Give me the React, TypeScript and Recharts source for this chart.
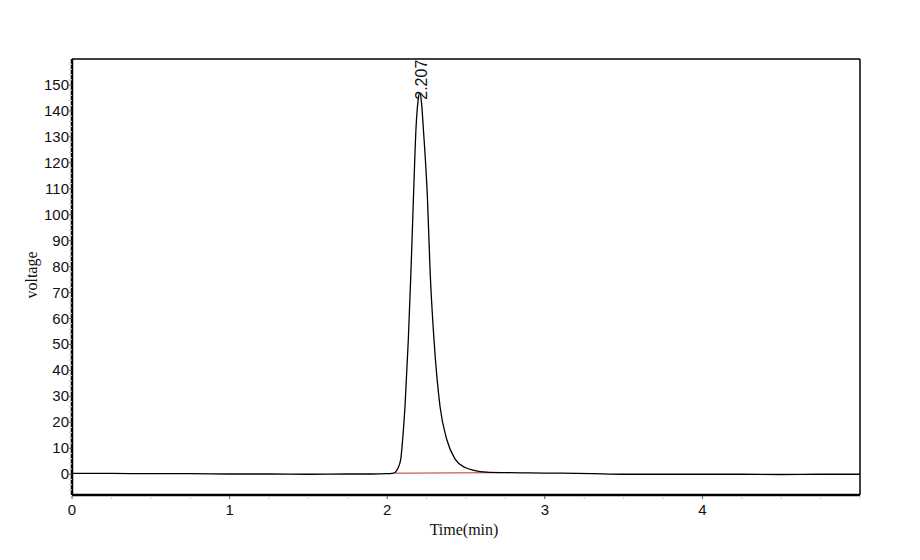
import { LineChart, Line, XAxis, YAxis, ReferenceLine, ReferenceDot } from "recharts";

// chromatogram trace (time in min, signal in voltage units)
const time = [
  0, 0.25, 0.5, 0.75, 1.0, 1.25, 1.5, 1.75, 1.9, 2.0, 2.03, 2.05, 2.07, 2.086, 2.098,
  2.113, 2.134, 2.151, 2.166, 2.183, 2.196, 2.207, 2.218, 2.229, 2.256, 2.272, 2.297,
  2.335, 2.378, 2.431, 2.494, 2.55, 2.631, 2.75, 2.9, 3.1, 3.3, 3.5, 3.75, 4.0, 4.25,
  4.5, 4.75, 5.0,
];
const voltage = [
  0.3, 0.3, 0.2, 0.2, 0.1, 0.1, 0.0, 0.1, 0.1, 0.2, 0.3, 0.7, 2.6, 5.8, 13.4,
  26.2, 51.8, 78.6, 105.5, 133.5, 144, 147, 143, 133.5, 105.5, 78.6, 51.8,
  26.2, 13.4, 5.8, 2.6, 1.5, 0.8, 0.6, 0.5, 0.4, 0.2, 0.0, 0.0, 0.0, 0.0,
  -0.1, 0.0, 0.0,
];

// integration baseline under the peak
const baselineTime = [2.05, 2.72];
const baselineVoltage = [0.4, 0.6];

const peakTime = 2.207;
const peakVoltage = 147;
const peakLabel = "2.207";

const xLabels = [0, 1, 2, 3, 4];
const yLabels = [0, 10, 20, 30, 40, 50, 60, 70, 80, 90, 100, 110, 120, 130, 140, 150];

const xTicks = Array.from({ length: 21 }, (_, i) => i * 0.25);
const yTicks = Array.from({ length: 83 }, (_, i) => -6 + i * 2);

const trace = time.map((t, i) => ({ t, v: voltage[i] }));
const baseline = baselineTime.map((t, i) => ({ t, v: baselineVoltage[i] }));

const SANS = "'Liberation Sans', Arial, Helvetica, sans-serif";
const SERIF = "'Liberation Serif', 'Times New Roman', serif";

function XTick({ x, y, payload }: any) {
  const major = xLabels.includes(payload.value);
  return (
    <g>
      <line x1={x} x2={x} y1={y + 1} y2={y + 4} stroke={major ? "#555" : "#ccc"} />
      {major && (
        <text x={x} y={y + 20} textAnchor="middle" fontSize={15} fontFamily={SANS} fill="#111">
          {payload.value}
        </text>
      )}
    </g>
  );
}

function YTick({ x, y, payload }: any) {
  const major = yLabels.includes(payload.value);
  return (
    <g>
      <line x1={x - 3} x2={x} y1={y} y2={y} stroke={major ? "#555" : "#ccc"} />
      {major && (
        <text x={x - 3} y={y + 5} textAnchor="end" fontSize={15} fontFamily={SANS} fill="#111">
          {payload.value}
        </text>
      )}
    </g>
  );
}

function PeakLabel({ viewBox }: any) {
  const cx = viewBox.x + (viewBox.width || 0) / 2;
  const cy = viewBox.y + (viewBox.height || 0) / 2;
  const px = cx + 7;
  const py = cy + 7;
  return (
    <text
      x={px}
      y={py}
      transform={`rotate(-90 ${px} ${py})`}
      fontSize={16}
      fontFamily={SANS}
      fill="#111"
    >
      {peakLabel}
    </text>
  );
}

export default function App() {
  return (
    <div style={{ position: "absolute", left: 0, top: 0, background: "#fff" }}>
      <LineChart width={920} height={560} margin={{ top: 59, right: 60, bottom: 0, left: 22 }}>
        <XAxis
          dataKey="t"
          type="number"
          domain={[0, 5]}
          ticks={xTicks}
          interval={0}
          tickSize={0}
          tickMargin={0}
          tick={<XTick />}
          tickLine={false}
          axisLine={{ stroke: "#000", strokeWidth: 2.5 }}
          height={65}
          allowDataOverflow
          label={({ viewBox }: any) => (
            <text
              x={viewBox.x + viewBox.width / 2 - 2}
              y={viewBox.y + 40}
              textAnchor="middle"
              fontSize={16}
              fontFamily={SERIF}
              fill="#111"
            >
              Time(min)
            </text>
          )}
        />
        <YAxis
          dataKey="v"
          type="number"
          domain={[-8, 160]}
          ticks={yTicks}
          interval={0}
          tickSize={0}
          tickMargin={0}
          tick={<YTick />}
          tickLine={false}
          axisLine={{ stroke: "#000", strokeWidth: 2.5 }}
          width={50}
          allowDataOverflow
          label={({ viewBox }: any) => {
            const lx = viewBox.x + 15;
            const ly = viewBox.y + viewBox.height / 2 - 2;
            return (
              <text
                x={lx}
                y={ly}
                transform={`rotate(-90 ${lx} ${ly})`}
                textAnchor="middle"
                fontSize={16}
                fontFamily={SERIF}
                fill="#111"
              >
                voltage
              </text>
            );
          }}
        />
        <ReferenceLine y={160} stroke="#000" strokeWidth={1.5} />
        <ReferenceLine x={5} stroke="#000" strokeWidth={1.5} />
        <Line
          data={baseline}
          dataKey="v"
          type="linear"
          stroke="#b03a2e"
          strokeWidth={1}
          dot={false}
          isAnimationActive={false}
        />
        <Line
          data={trace}
          dataKey="v"
          type="monotone"
          stroke="#000"
          strokeWidth={1.3}
          dot={false}
          isAnimationActive={false}
        />
        <ReferenceDot
          x={peakTime}
          y={peakVoltage}
          r={0.01}
          fill="none"
          stroke="none"
          label={<PeakLabel />}
        />
      </LineChart>
    </div>
  );
}
